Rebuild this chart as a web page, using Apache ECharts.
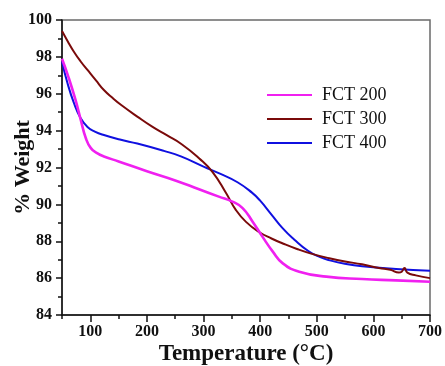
<!DOCTYPE html>
<html>
<head>
<meta charset="utf-8">
<script src="https://cdn.jsdelivr.net/npm/echarts@6/dist/echarts.min.js"></script>
<style>
  html, body { margin: 0; padding: 0; background: #fff; }
  #chart { width: 445px; height: 366px; }
</style>
</head>
<body>
<div id="chart"></div>
<script>
// Thermogravimetric curves: temperature (°C) vs remaining weight (%)
const seriesNames = ['FCT 200', 'FCT 300', 'FCT 400'];

const fct200Temp = [50, 62, 74, 83, 92, 101, 112, 124, 150, 200, 250, 292, 327, 351, 369, 387, 404, 422, 440, 469, 517, 580, 640, 700];
const fct200Wt   = [97.9, 96.85, 95.65, 94.6, 93.6, 93.05, 92.78, 92.6, 92.33, 91.8, 91.3, 90.82, 90.42, 90.15, 89.8, 89.05, 88.25, 87.45, 86.8, 86.35, 86.08, 85.95, 85.88, 85.8];

const fct300Temp = [50, 60, 71, 83, 95, 110, 124, 140, 154, 183, 210, 235, 262, 292, 316, 340, 357, 375, 398, 420, 440, 465, 490, 522, 550, 580, 610, 630, 645, 650, 655, 660, 675, 700];
const fct300Wt   = [99.4, 98.85, 98.28, 97.75, 97.29, 96.72, 96.2, 95.75, 95.4, 94.76, 94.2, 93.75, 93.25, 92.5, 91.75, 90.6, 89.7, 89.05, 88.5, 88.15, 87.88, 87.58, 87.33, 87.08, 86.9, 86.75, 86.55, 86.45, 86.3, 86.35, 86.55, 86.3, 86.15, 86.0];

const fct400Temp = [50, 59, 71, 83, 95, 108, 124, 154, 183, 230, 260, 300, 330, 360, 385, 400, 420, 440, 460, 485, 505, 525, 550, 580, 640, 700];
const fct400Wt   = [97.75, 96.65, 95.5, 94.67, 94.2, 93.95, 93.76, 93.5, 93.3, 92.9, 92.6, 92.05, 91.65, 91.2, 90.65, 90.2, 89.45, 88.7, 88.1, 87.47, 87.15, 86.95, 86.78, 86.65, 86.5, 86.4];

const xMajorTicks = [100, 200, 300, 400, 500, 600, 700];
const xMinorTicks = [50, 150, 250, 350, 450, 550, 650];

const colors = ['#f020f0', '#7a0a0a', '#1010e0'];
const widths = [2.6, 2, 2];

const pairs = (xs, ys) => xs.map((x, i) => [x, ys[i]]);
const curves = [
  pairs(fct200Temp, fct200Wt),
  pairs(fct300Temp, fct300Wt),
  pairs(fct400Temp, fct400Wt)
];

const serif = 'Liberation Serif';
const tickFont = { fontFamily: serif, fontWeight: 'bold', fontSize: 16, color: '#111' };

const chart = echarts.init(document.getElementById('chart'), null, { renderer: 'canvas' });
chart.setOption({
  animation: false,
  backgroundColor: '#fff',
  grid: {
    left: 62, right: 15, top: 20, bottom: 51,
    containLabel: false, outerBoundsMode: 'none',
    show: true, borderColor: '#6a6a6a', borderWidth: 1.5, backgroundColor: 'transparent'
  },
  legend: {
    orient: 'vertical',
    left: 267, top: 86,
    padding: 0,
    icon: 'rect',
    itemWidth: 45, itemHeight: 2.2, itemGap: 6,
    textStyle: { fontFamily: serif, fontSize: 18, color: '#111', padding: [0, 0, 0, 5] },
    data: seriesNames
  },
  xAxis: [
    {
      type: 'value', min: 50, max: 700,
      name: 'Temperature (°C)', nameLocation: 'middle', nameGap: 28, nameMoveOverlap: false,
      nameTextStyle: { fontFamily: serif, fontWeight: 'bold', fontSize: 23, color: '#111' },
      axisLine: { show: true, lineStyle: { color: '#111', width: 1.5 } },
      axisTick: { show: true, inside: false, length: 7, customValues: xMajorTicks, lineStyle: { color: '#111', width: 1.5 } },
      axisLabel: Object.assign({ margin: 9, customValues: xMajorTicks }, tickFont),
      splitLine: { show: false }
    },
    {
      type: 'value', min: 50, max: 700, position: 'bottom',
      axisLine: { show: false },
      axisTick: { show: true, inside: false, length: 4, customValues: xMinorTicks, lineStyle: { color: '#111', width: 1.5 } },
      axisLabel: { show: false },
      splitLine: { show: false }
    }
  ],
  yAxis: {
    type: 'value', min: 84, max: 100, interval: 2,
    name: '% Weight', nameLocation: 'middle', nameGap: 28, nameMoveOverlap: false,
    nameTextStyle: { fontFamily: serif, fontWeight: 'bold', fontSize: 22, color: '#111' },
    axisLine: { show: true, lineStyle: { color: '#111', width: 1.5 } },
    axisTick: { show: true, inside: false, length: 6, lineStyle: { color: '#111', width: 1.5 } },
    minorTick: { show: true, splitNumber: 2, length: 4, lineStyle: { color: '#111', width: 1.5 } },
    axisLabel: Object.assign({ margin: 10 }, tickFont),
    splitLine: { show: false }
  },
  series: seriesNames.map((n, i) => ({
    name: n,
    type: 'line',
    xAxisIndex: 0,
    data: curves[i],
    symbol: 'none',
    smooth: 0.5,
    lineStyle: { color: colors[i], width: widths[i] },
    itemStyle: { color: colors[i] },
    z: 3 - i
  }))
});
</script>
</body>
</html>
